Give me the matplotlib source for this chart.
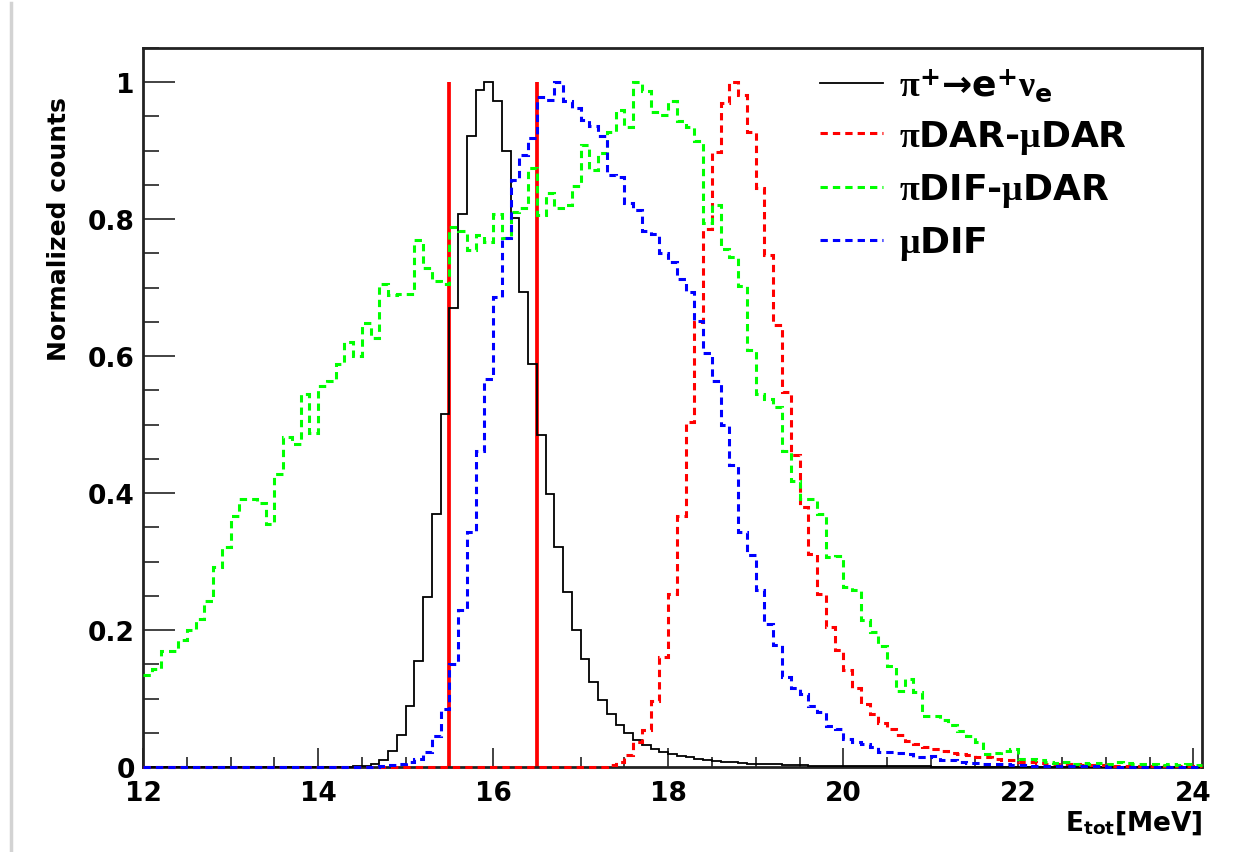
import numpy as np
import matplotlib
matplotlib.use('Agg')
import matplotlib.pyplot as plt
from matplotlib.ticker import MultipleLocator, FuncFormatter
from matplotlib.lines import Line2D

plt.rcParams['font.family'] = ['DejaVu Sans']
plt.rcParams['font.weight'] = 'bold'
plt.rcParams['mathtext.fontset'] = 'custom'
plt.rcParams['mathtext.rm'] = 'Liberation Serif'
plt.rcParams['mathtext.it'] = 'Liberation Serif:italic'
plt.rcParams['mathtext.bf'] = 'DejaVu Sans:bold'

# bins of 0.1 MeV from 12.0 to 24.1
edges = np.linspace(12.0, 24.1, 122)

# pi+ -> e+ nu_e
pi_enu = [0.0] * 24 + [
    0.001, 0.002, 0.005, 0.010, 0.023, 0.047, 0.089, 0.155, 0.248, 0.370,
    0.515, 0.670, 0.808, 0.922, 0.989, 1.000, 0.972, 0.899, 0.801, 0.694,
    0.589, 0.485, 0.399, 0.322, 0.255, 0.200, 0.158, 0.124, 0.098, 0.077,
    0.061, 0.049, 0.039, 0.032, 0.026, 0.022, 0.019, 0.016, 0.014, 0.012,
    0.010, 0.009, 0.008, 0.007, 0.006, 0.005, 0.005, 0.004, 0.004, 0.003,
    0.003, 0.003, 0.002, 0.002, 0.002, 0.002, 0.001, 0.001, 0.001, 0.001,
    0.001, 0.001, 0.001, 0.001, 0.001, 0.001] + [0.0] * 31

# piDAR-muDAR
dar_dar = [0.0] * 53 + [
    0.003, 0.007, 0.018, 0.037, 0.054, 0.096, 0.160, 0.252, 0.367, 0.504,
    0.650, 0.785, 0.898, 0.970, 1.000, 0.981, 0.927, 0.845, 0.747, 0.645,
    0.547, 0.455, 0.380, 0.311, 0.253, 0.205, 0.171, 0.141, 0.115, 0.092,
    0.077, 0.065, 0.055, 0.047, 0.038, 0.034, 0.029, 0.027, 0.023, 0.021,
    0.019, 0.017, 0.015, 0.014, 0.012, 0.011, 0.010, 0.008, 0.007, 0.006,
    0.005, 0.005, 0.004, 0.004, 0.003, 0.003, 0.003,
    0.002, 0.002, 0.002, 0.002, 0.001, 0.002, 0.001, 0.001, 0.001, 0.001, 0.001]

# piDIF-muDAR
dif_dar = [
    0.135, 0.143, 0.170, 0.170, 0.186, 0.200, 0.216, 0.243, 0.292, 0.322,
    0.367, 0.391, 0.391, 0.385, 0.355, 0.428, 0.482, 0.472, 0.544, 0.488,
    0.556, 0.563, 0.589, 0.621, 0.600, 0.648, 0.626, 0.705, 0.689, 0.691,
    0.691, 0.770, 0.728, 0.710, 0.705, 0.788, 0.782, 0.755, 0.777, 0.767,
    0.807, 0.773, 0.811, 0.816, 0.874, 0.806, 0.838, 0.817, 0.820, 0.848,
    0.908, 0.872, 0.897, 0.928, 0.960, 0.934, 1.000, 0.987, 0.957, 0.952,
    0.973, 0.943, 0.935, 0.914, 0.795, 0.820, 0.756, 0.745, 0.702, 0.609,
    0.545, 0.538, 0.526, 0.461, 0.418, 0.392, 0.392, 0.370, 0.307, 0.308,
    0.263, 0.258, 0.214, 0.197, 0.177, 0.148, 0.111, 0.129, 0.109, 0.075,
    0.075, 0.069, 0.061, 0.052, 0.046, 0.036, 0.019, 0.020, 0.024, 0.026,
    0.012, 0.012, 0.010, 0.008, 0.006, 0.008, 0.005, 0.006, 0.004, 0.006,
    0.004, 0.007, 0.006, 0.004, 0.005, 0.004, 0.003, 0.004, 0.003, 0.004,
    0.003]

# muDIF
mu_dif = [0.0] * 27 + [
    0.001, 0.003, 0.005, 0.007, 0.012, 0.022, 0.046, 0.085, 0.150, 0.229,
    0.343, 0.461, 0.566, 0.687, 0.772, 0.857, 0.894, 0.918, 0.979, 0.974,
    1.000, 0.973, 0.962, 0.945, 0.936, 0.922, 0.865, 0.862, 0.823, 0.813,
    0.782, 0.779, 0.750, 0.737, 0.713, 0.694, 0.652, 0.605, 0.564, 0.499,
    0.441, 0.343, 0.310, 0.259, 0.209, 0.178, 0.131, 0.116, 0.107, 0.089,
    0.080, 0.060, 0.056, 0.041, 0.036, 0.034, 0.029, 0.022, 0.022, 0.021,
    0.019, 0.014, 0.014, 0.016, 0.010, 0.010, 0.008, 0.006, 0.006, 0.005,
    0.005, 0.004, 0.003, 0.003, 0.002, 0.002, 0.002, 0.001, 0.001, 0.001,
    0.001, 0.001, 0.001] + [0.0] * 11

cut_edges = [15.5, 16.5]

labels = [r'$\mathrm{\pi}^{\mathbf{+}}$→e$^{\mathbf{+}}\mathrm{\nu}_{\mathbf{e}}$',
          r'$\mathrm{\pi}$DAR-$\mathrm{\mu}$DAR',
          r'$\mathrm{\pi}$DIF-$\mathrm{\mu}$DAR',
          r'$\mathrm{\mu}$DIF']

fig = plt.figure(figsize=(12.46, 8.53), dpi=100)
ax = fig.add_axes([0.1148, 0.0996, 0.85, 0.843])

lw_d = 2.2
dash = (0, (2.4, 1.65))
ax.vlines(cut_edges, 0, 1, color='#ff0000', lw=2.7, zorder=2)
ax.stairs(pi_enu, edges, baseline=None, color='black', lw=1.3, zorder=3, clip_on=False)
ax.stairs(dar_dar, edges, baseline=None, color='#ff0000', lw=lw_d, ls=dash, zorder=3, clip_on=False)
ax.stairs(dif_dar, edges, baseline=None, color='#00ff00', lw=lw_d, ls=dash, zorder=3, clip_on=False)
ax.stairs(mu_dif, edges, baseline=None, color='#0000ff', lw=lw_d, ls=dash, zorder=3, clip_on=False)

handles = [Line2D([], [], color='black', lw=1.3),
           Line2D([], [], color='#ff0000', lw=lw_d, ls=dash),
           Line2D([], [], color='#00ff00', lw=lw_d, ls=dash),
           Line2D([], [], color='#0000ff', lw=lw_d, ls=dash)]
ax.legend(handles, labels, loc='upper left', bbox_to_anchor=(0.639, 0.975),
          frameon=False, fontsize=26, handlelength=1.75, handletextpad=0.45,
          labelspacing=0.42, borderpad=0, borderaxespad=0)

ax.set_xlim(12, 24.1)
ax.set_ylim(0, 1.05)
ax.xaxis.set_major_locator(MultipleLocator(2))
ax.xaxis.set_minor_locator(MultipleLocator(0.5))
ax.yaxis.set_major_locator(MultipleLocator(0.2))
ax.yaxis.set_minor_locator(MultipleLocator(0.05))
ax.yaxis.set_major_formatter(FuncFormatter(lambda v, p: '%g' % round(v, 2)))

ax.tick_params(axis='both', which='both', direction='in', top=False, right=False,
               labelsize=19, colors='#222222', width=1.2)
ax.tick_params(axis='y', which='major', length=23, pad=6)
ax.tick_params(axis='y', which='minor', length=11.5)
ax.tick_params(axis='x', which='major', length=14, pad=9)
ax.tick_params(axis='x', which='minor', length=7)
for lab in ax.get_xticklabels() + ax.get_yticklabels():
    lab.set_fontweight('bold')
    lab.set_color('black')
for s in ax.spines.values():
    s.set_linewidth(2.0)
    s.set_color('#222222')

ax.set_ylabel('Normalized counts', fontsize=18, fontweight='bold', loc='top')
ax.yaxis.set_label_coords(-0.068, 0.933)
ax.set_xlabel(r'E$_{\mathbf{tot}}$[MeV]', fontsize=19, fontweight='bold', loc='right')
ax.xaxis.set_label_coords(1.0, -0.058)

fig.add_artist(Line2D([0.009, 0.009], [0.0, 0.995], transform=fig.transFigure,
                      color='#d3d3d3', lw=2.5))

fig.savefig('out.png', dpi=100)
